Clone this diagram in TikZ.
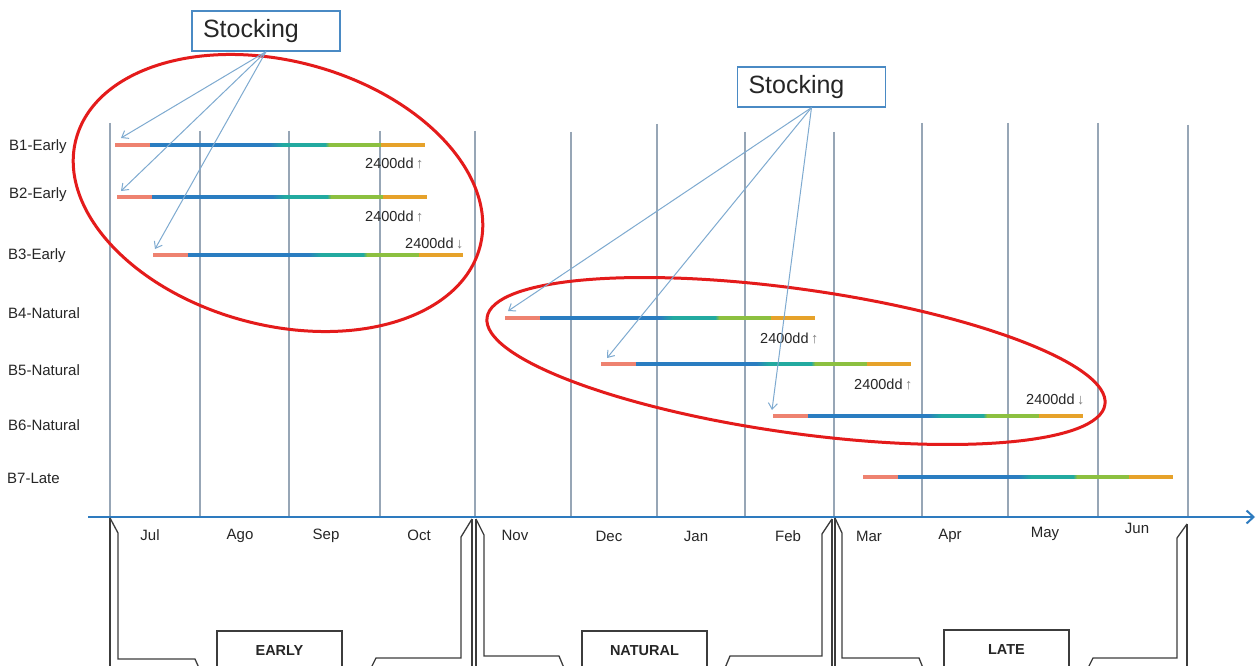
\documentclass[tikz,border=0pt]{standalone}
\usepackage{fontspec}
\setmainfont{Liberation Sans}
\usetikzlibrary{arrows.meta}
\definecolor{gridc}{HTML}{97A6B6}
\definecolor{axisc}{HTML}{2E7BBF}
\definecolor{arrc}{HTML}{7EAAD0}
\definecolor{redc}{HTML}{E41B1B}
\definecolor{salm}{HTML}{EE8270}
\definecolor{bblue}{HTML}{2A7DC1}
\definecolor{bteal}{HTML}{22AAA0}
\definecolor{bgreen}{HTML}{8CC040}
\definecolor{borange}{HTML}{E6A22A}
\definecolor{txt}{HTML}{262626}
\definecolor{brk}{HTML}{3C3C3C}
\definecolor{boxc}{HTML}{4A8AC4}
\newcommand\gbar[3]{%
 \begin{scope}[shift={(#1,#2)}]
  \fill[salm] (0,-1.6) rectangle (35,1.6);
  \fill[bblue] (35,-1.6) rectangle (155,1.6);
  \shade[left color=bblue,right color=bteal] (155,-1.6) rectangle (168,1.6);
  \fill[bteal] (168,-1.6) rectangle (210,1.6);
  \shade[left color=bteal,right color=bgreen] (210,-1.6) rectangle (214,1.6);
  \fill[bgreen] (214,-1.6) rectangle (266,1.6);
  \fill[borange] (266,-1.6) rectangle (310,1.6);
 \end{scope}
 \coordinate (#3) at (#1,#2);
}
\tikzset{
 gridline/.style={draw=gridc, line width=1.5pt},
 axisline/.style={draw=axisc, line width=2pt, -{Straight Barb[length=7pt,width=13pt]}},
 stockbox/.style={draw=boxc, line width=1.2pt, minimum width=148pt, minimum height=40pt,
   text width=126pt, inner xsep=11pt, inner ysep=0pt, align=left,
   font=\fontsize{25}{28}\selectfont, text=txt},
 stockarrow/.style={draw=arrc, line width=1pt, -{Straight Barb[length=6pt,width=9pt]}},
 rowlab/.style={anchor=west, inner sep=0pt, font=\fontsize{15}{18}\selectfont, text=txt},
 monlab/.style={inner sep=0pt, font=\fontsize{15}{18}\selectfont, text=txt},
 ddlab/.style={anchor=west, inner sep=0pt, font=\fontsize{14.5}{17}\selectfont, text=txt},
 ringline/.style={draw=redc, line width=3pt},
 brkline/.style={draw=brk, line width=1.3pt, line join=miter},
 seasonbox/.style={draw=brk, line width=1.5pt, minimum width=125pt, minimum height=40pt,
   inner sep=0pt, font=\bfseries\fontsize{14.5}{17}\selectfont, text=txt},
}
\newcommand\upar{{\color{gray}\,↑}}
\newcommand\dnar{{\color{gray}\,↓}}
\begin{document}
\begin{tikzpicture}[x=1pt,y=-1pt]
\useasboundingbox (0,0) rectangle (1256,666);
\fill[white] (0,0) rectangle (1256,666);
% grid
\foreach \x/\t in {110/123,200/131,289/131,380/131,475/131,571/132,657/124,745/132,834/132,922/123,1008/123,1098/123,1188/125}
  \draw[gridline] (\x,\t) -- (\x,517);
% axis
\coordinate (ax0) at (88,517);
\coordinate (ax1) at (1255,517);
\draw[axisline] (ax0) -- (ax1);
% bars
\gbar{115}{145}{b1}
\gbar{117}{197}{b2}
\gbar{153}{255}{b3}
\gbar{505}{318}{b4}
\gbar{601}{364}{b5}
\gbar{773}{416}{b6}
\gbar{863}{477}{b7}
% row labels
\node[rowlab] (l1) at (9,147) {B1-Early};
\node[rowlab] (l2) at (9,195) {B2-Early};
\node[rowlab] (l3) at (8,256) {B3-Early};
\node[rowlab] (l4) at (8,313) {B4-Natural};
\node[rowlab] (l5) at (8,370) {B5-Natural};
\node[rowlab] (l6) at (8,425) {B6-Natural};
\node[rowlab] (l7) at (7,478) {B7-Late};
% month labels
\node[monlab] (mjul) at (150,535) {Jul};
\node[monlab] (mago) at (240,536) {Ago};
\node[monlab] (msep) at (326,536) {Sep};
\node[monlab] (moct) at (419,535) {Oct};
\node[monlab] (mnov) at (515,535) {Nov};
\node[monlab] (mdec) at (609,536) {Dec};
\node[monlab] (mjan) at (696,536) {Jan};
\node[monlab] (mfeb) at (788,536) {Feb};
\node[monlab] (mmar) at (869,536) {Mar};
\node[monlab] (mapr) at (950,536) {Apr};
\node[monlab] (mmay) at (1045,534) {May};
\node[monlab] (mjun) at (1137,528) {Jun};
% dd labels
\node[ddlab] (d1) at (365,163) {2400dd\upar};
\node[ddlab] (d2) at (365,216) {2400dd\upar};
\node[ddlab] (d3) at (405,243) {2400dd\dnar};
\node[ddlab] (d4) at (760,338) {2400dd\upar};
\node[ddlab] (d5) at (854,384) {2400dd\upar};
\node[ddlab] (d6) at (1026,399) {2400dd\dnar};
% red rings
\draw[ringline, rotate around={-15:(278,193)}] (278,193) ellipse [x radius=209pt, y radius=132pt];
\draw[ringline, rotate around={-8:(796,361)}] (796,361) ellipse [x radius=312pt, y radius=72pt];
% stocking boxes and arrows
\node[stockbox] (s1) at (266,31) {Stocking};
\node[stockbox] (s2) at (811.5,87) {Stocking};
\coordinate (t1) at (121,138);
\coordinate (t2) at (121,191);
\coordinate (t3) at (155,249);
\coordinate (t4) at (508,311);
\coordinate (t5) at (607,358);
\coordinate (t6) at (772,410);
\foreach \t in {t1,t2,t3} \draw[stockarrow] (s1.south) -- (\t);
\foreach \t in {t4,t5,t6} \draw[stockarrow] (s2.south) -- (\t);
% season brackets
\draw[brkline] (110,518) -- (110,668);
\draw[brkline] (110,518) -- (118,533) -- (118,659) -- (195,659) -- (199,668);
\draw[brkline] (472,519) -- (472,668);
\draw[brkline] (472,519) -- (461,537) -- (461,658) -- (376,658) -- (371,668);
\draw[brkline] (476,519) -- (476,668);
\draw[brkline] (476,519) -- (484,535) -- (484,656) -- (559,656) -- (564,668);
\draw[brkline] (832,519) -- (832,668);
\draw[brkline] (832,519) -- (822,534) -- (822,656) -- (730,656) -- (725,668);
\draw[brkline] (835,518) -- (835,668);
\draw[brkline] (835,518) -- (842,533) -- (842,658) -- (919,658) -- (923,668);
\draw[brkline] (1187,524) -- (1187,668);
\draw[brkline] (1187,524) -- (1177,538) -- (1177,658) -- (1093,658) -- (1088,668);
\node[seasonbox] (early) at (279.5,651) {EARLY};
\node[seasonbox] (natural) at (644.5,651) {NATURAL};
\node[seasonbox] (late) at (1006.5,650) {LATE};
\end{tikzpicture}
\end{document}
